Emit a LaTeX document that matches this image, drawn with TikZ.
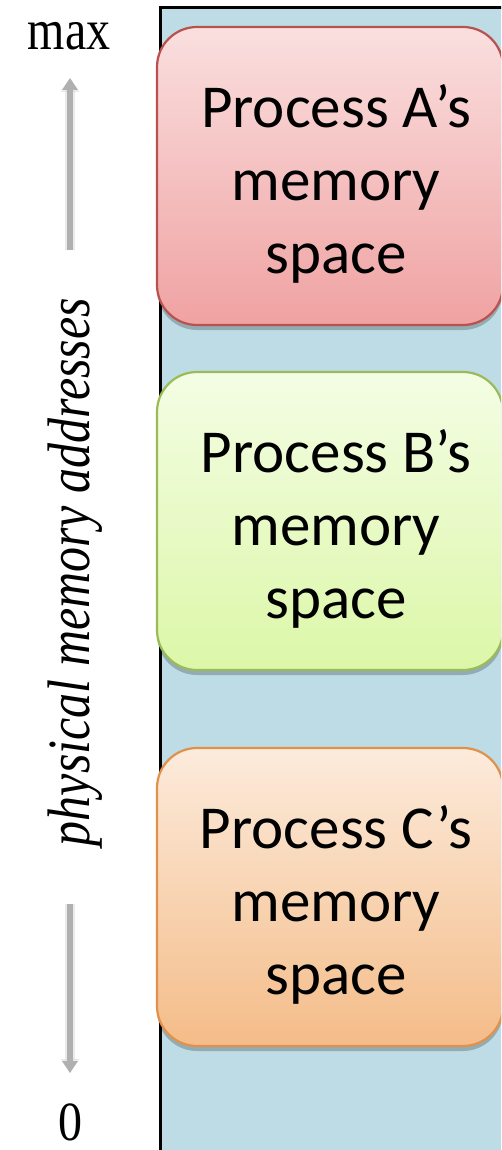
\documentclass[tikz,border=0pt]{standalone}
\usepackage{fontspec}
\setmainfont{Liberation Serif}
\newfontfamily\boxfont{Carlito}
\usetikzlibrary{shadows,arrows.meta}
\definecolor{membg}{HTML}{BDDCE6}
\definecolor{aTop}{HTML}{FADFDF}
\definecolor{aBot}{HTML}{F0A2A2}
\definecolor{aLine}{HTML}{B9524F}
\definecolor{bTop}{HTML}{F4FDE4}
\definecolor{bBot}{HTML}{DCF7A8}
\definecolor{bLine}{HTML}{9BBB59}
\definecolor{cTop}{HTML}{FCEBDC}
\definecolor{cBot}{HTML}{F4BC88}
\definecolor{cLine}{HTML}{E0924C}
\definecolor{axisgray}{HTML}{B0B0B0}
\tikzset{
  procbox/.style={rounded corners=40pt, line width=2.2pt, minimum width=346pt,
    minimum height=298pt, inner sep=0pt,
    drop shadow={shadow xshift=0pt, shadow yshift=-5pt, opacity=0.22, fill=black}},
  proctext/.style={font=\boxfont\fontsize{61}{73}\selectfont, align=center, inner sep=0pt},
  axislabel/.style={font=\fontsize{48}{48}\selectfont, inner sep=0pt},
  axisline/.style={draw=axisgray, line width=6pt, -{Triangle[width=15pt,length=12pt]}},
  axishalo/.style={draw=axisgray, opacity=0.25, line width=10pt, -{Triangle[width=18pt,length=14pt]}},
}
\begin{document}
\begin{tikzpicture}[x=1pt,y=-1pt]
\useasboundingbox (0,0) rectangle (501,1150);
\clip (0,0) rectangle (501,1150);
% memory column
\node[fill=membg, draw=black, line width=3pt, minimum width=380pt, minimum height=1200pt,
  anchor=north west, inner sep=0pt] (mem) at (159,6) {};
% process regions
\node[procbox, draw=aLine, top color=aTop, bottom color=aBot] (A) at (330,176) {};
\node[proctext] (Atxt) at (336,184) {Process A’s\\memory\\space};
\node[procbox, draw=bLine, top color=bTop, bottom color=bBot] (B) at (330,521) {};
\node[proctext] (Btxt) at (336,529) {Process B’s\\memory\\space};
\node[procbox, draw=cLine, top color=cTop, bottom color=cBot] (C) at (330,897) {};
\node[proctext] (Ctxt) at (336,905) {Process C’s\\memory\\space};
% address axis
\node[axislabel, anchor=base] (max) at (69,50) {\scalebox{1}[1.2]{max}};
\node[axislabel, anchor=base] (zero) at (70,1140) {\scalebox{1}[1.15]{0}};
\node[font=\itshape\fontsize{50}{50}\selectfont, rotate=90, inner sep=0pt] (addr) at (75,572)
  {\scalebox{1}[1.2]{physical memory addresses}};
\coordinate (upS) at (70,250);
\coordinate (upE) at (70,78);
\coordinate (dnS) at (70,904);
\coordinate (dnE) at (70,1073);
\draw[axishalo] (upS) -- (upE);
\draw[axisline] (upS) -- (upE);
\draw[axishalo] (dnS) -- (dnE);
\draw[axisline] (dnS) -- (dnE);
\end{tikzpicture}
\end{document}
